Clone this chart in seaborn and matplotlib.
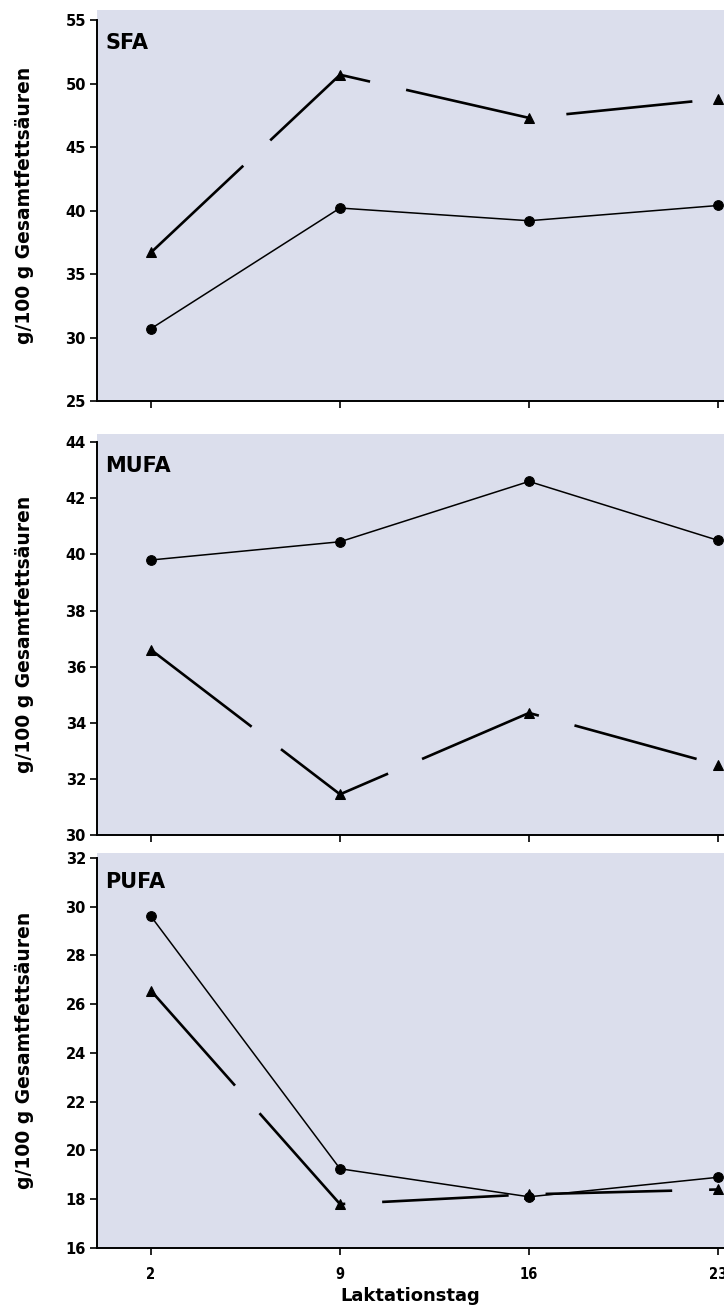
import matplotlib
matplotlib.use("Agg")
import matplotlib.pyplot as plt
import seaborn as sns
import pandas as pd

# --- data ---
days = [2, 9, 16, 23]
sfa_circle = [30.7, 40.2, 39.2, 40.4]
sfa_triangle = [36.7, 50.7, 47.3, 48.8]
mufa_circle = [39.8, 40.45, 42.6, 40.5]
mufa_triangle = [36.6, 31.45, 34.35, 32.5]
pufa_circle = [29.6, 19.25, 18.1, 18.9]
pufa_triangle = [26.55, 17.8, 18.2, 18.4]

panel_names = ["SFA", "MUFA", "PUFA"]
y_ticks = [list(range(25, 56, 5)), list(range(30, 45, 2)), list(range(16, 33, 2))]
y_limits = [(25, 55.8), (30, 44.29), (16, 32.2)]
y_label = "g/100 g Gesamtfettsäuren"
x_label = "Laktationstag"

BG = "#DBDEEC"

sns.set_theme(style="ticks")
plt.rcParams["font.family"] = ["DejaVu Sans"]
plt.rcParams["font.weight"] = "bold"
plt.rcParams["text.color"] = "black"
plt.rcParams["axes.labelcolor"] = "black"

fig = plt.figure(figsize=(7.24, 13.15), dpi=100)

# axes boxes in figure fraction: [left, bottom, width, height]
boxes = [
    [97 / 724, 1 - 401 / 1315, 627 / 724, 391 / 1315],
    [97 / 724, 1 - 835 / 1315, 627 / 724, 401 / 1315],
    [97 / 724, 1 - 1248 / 1315, 627 / 724, 395 / 1315],
]
series = [
    (sfa_circle, sfa_triangle),
    (mufa_circle, mufa_triangle),
    (pufa_circle, pufa_triangle),
]

for i, (box, (circ, tri)) in enumerate(zip(boxes, series)):
    ax = fig.add_axes(box)
    ax.set_facecolor(BG)
    df = pd.DataFrame({"Tag": days, "kreis": circ, "dreieck": tri})

    sns.lineplot(data=df, x="Tag", y="kreis", ax=ax, color="black",
                 linewidth=1.1, marker="o", markersize=7,
                 markeredgecolor="black", markerfacecolor="black")
    sns.lineplot(data=df, x="Tag", y="dreieck", ax=ax, color="black",
                 linewidth=1.9, linestyle=(0, (48, 14)), marker="^",
                 markersize=7.5, markeredgecolor="black",
                 markerfacecolor="black")

    ax.set_xlim(0, 23.22)
    ax.set_ylim(*y_limits[i])
    ax.set_xticks(days)
    ax.set_yticks(y_ticks[i])
    ax.spines["top"].set_visible(False)
    ax.spines["right"].set_visible(False)
    ax.spines["left"].set_bounds(y_ticks[i][0], y_ticks[i][-1])
    for s in ("left", "bottom"):
        ax.spines[s].set_linewidth(1.4)
        ax.spines[s].set_color("black")
    ax.tick_params(axis="y", direction="out", length=5, width=1.2,
                   color="black", labelsize=10.5, labelcolor="black", pad=3)
    ax.tick_params(axis="x", direction="out", length=5, width=1.2,
                   color="black", labelsize=10.5, labelcolor="black", pad=9)
    for lab in ax.get_yticklabels():
        lab.set_fontweight("heavy")

    if i < 2:
        ax.set_xticklabels([])
        ax.set_xlabel("")
    else:
        ax.set_xticklabels([str(d) for d in days], fontweight="bold",
                           fontsize=10.5, fontstretch="condensed")
        ax.set_xlabel(x_label, fontsize=13, fontweight="heavy", labelpad=3,
                      color="black")

    ax.set_ylabel(y_label, fontsize=13.5, fontweight="heavy", color="black")
    ax.yaxis.set_label_coords(-0.100, 0.5)

    ax.text(0.013, 0.94 + 0.006 * i, panel_names[i], transform=ax.transAxes,
            ha="left", va="top", fontsize=15, fontweight="heavy",
            color="black")

fig.savefig("out.png", dpi=100, facecolor="white")
